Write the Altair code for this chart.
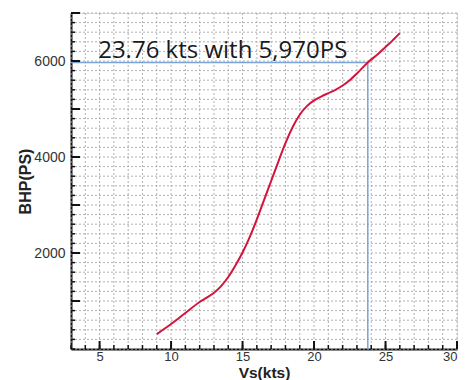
import altair as alt
import pandas as pd

# Curve data
vs = [9, 10, 11, 12, 12.5, 13, 13.5, 14, 14.5, 15, 15.5, 16, 16.5, 17, 17.5, 18, 18.5,
      19, 19.5, 20, 20.5, 21, 21.5, 22, 22.5, 23, 23.76, 24.5, 25, 25.5, 26]
bhp = [310, 520, 750, 980, 1070, 1170, 1310, 1500, 1740, 2010, 2330, 2700, 3100,
       3500, 3900, 4290, 4620, 4880, 5060, 5180, 5260, 5330, 5400, 5490, 5600,
       5740, 5970, 6150, 6290, 6430, 6580]

op_speed = 23.76
op_power = 5970
annot_text = "23.76 kts with 5,970PS"

x_grid = list(range(3, 31))
y_grid = list(range(0, 7001, 200))
x_major = [5, 10, 15, 20, 25, 30]
y_major = [1000, 2000, 3000, 4000, 5000, 6000, 7000]
y_labels = [2000, 4000, 6000]

W, H = 386, 336

xs = alt.Scale(domain=[3, 30], nice=False, zero=False)
ys = alt.Scale(domain=[0, 7000], nice=False)

x_axis = alt.Axis(
    values=x_major, grid=False, tickSize=0, labelOverlap=False,
    labelFont="Liberation Sans", labelFontSize=13, labelColor="#333",
    labelPadding=1, domainColor="#111", domainWidth=2,
    title="Vs(kts)", titleFont="Liberation Sans", titleFontSize=15.5,
    titleFontWeight="bold", titleColor="#222", titleY=28, titleBaseline="alphabetic")
y_axis = alt.Axis(
    values=y_labels, grid=False, tickSize=0, labelOverlap=False, format="d",
    labelFont="Liberation Sans", labelFontSize=14, labelColor="#333",
    labelPadding=6, domainColor="#111", domainWidth=2,
    title="BHP(PS)", titleFont="Liberation Sans", titleFontSize=16,
    titleFontWeight="bold", titleColor="#222", titleAngle=-90,
    titleX=-46, titleY=H / 2, titleBaseline="middle", titleAlign="center")

curve = pd.DataFrame({"vs": vs, "bhp": bhp})

# dotted grid
gx = alt.Chart(pd.DataFrame({"t": x_grid})).mark_rule(
    color="#b0b0b0", strokeWidth=1, strokeDash=[2, 2]).encode(
    x=alt.X("t:Q", scale=xs, axis=x_axis), y=alt.value(0), y2=alt.value(H))
gy = alt.Chart(pd.DataFrame({"t": y_grid})).mark_rule(
    color="#b0b0b0", strokeWidth=1, strokeDash=[2, 2]).encode(
    y=alt.Y("t:Q", scale=ys, axis=y_axis), x=alt.value(0), x2=alt.value(W))

line = alt.Chart(curve).mark_line(color="#d4143c", strokeWidth=2, interpolate="monotone").encode(
    x=alt.X("vs:Q", scale=xs, axis=x_axis), y=alt.Y("bhp:Q", scale=ys, axis=y_axis))

op = pd.DataFrame({"x0": [3, op_speed], "x1": [op_speed, op_speed],
                   "y0": [op_power, 0], "y1": [op_power, op_power]})
guides = alt.Chart(op).mark_rule(color="#7aa3d8", strokeWidth=1.5).encode(
    x=alt.X("x0:Q", scale=xs, axis=x_axis), x2="x1:Q",
    y=alt.Y("y0:Q", scale=ys, axis=y_axis), y2="y1:Q")

# inward ticks
xt_minor = alt.Chart(pd.DataFrame({"t": x_grid})).mark_rule(color="#111", strokeWidth=1.5).encode(
    x=alt.X("t:Q", scale=xs, axis=x_axis), y=alt.value(H), y2=alt.value(H - 4))
xt_major = alt.Chart(pd.DataFrame({"t": x_major})).mark_rule(color="#111", strokeWidth=2).encode(
    x=alt.X("t:Q", scale=xs, axis=x_axis), y=alt.value(H), y2=alt.value(H - 8))
yt_minor = alt.Chart(pd.DataFrame({"t": y_grid})).mark_rule(color="#111", strokeWidth=1.5).encode(
    y=alt.Y("t:Q", scale=ys, axis=y_axis), x=alt.value(0), x2=alt.value(4))
yt_major = alt.Chart(pd.DataFrame({"t": y_major})).mark_rule(color="#111", strokeWidth=2).encode(
    y=alt.Y("t:Q", scale=ys, axis=y_axis), x=alt.value(0), x2=alt.value(9))

annot = alt.Chart(pd.DataFrame({"x": [4.9], "y": [6060], "t": [annot_text]})).mark_text(
    align="left", baseline="alphabetic", font="Open Sans", fontSize=24, color="#1a1a1a").encode(
    x=alt.X("x:Q", scale=xs, axis=x_axis), y=alt.Y("y:Q", scale=ys, axis=y_axis), text="t:N")

chart = alt.layer(gx, gy, guides, line, xt_minor, xt_major, yt_minor, yt_major, annot).properties(
    width=W, height=H,
    autosize="none",
    padding={"left": 71, "top": 13, "right": 8, "bottom": 31},
).configure_view(stroke=None).configure(background="white")

chart.save("out.html", embed_options={"renderer": "svg", "actions": False})
